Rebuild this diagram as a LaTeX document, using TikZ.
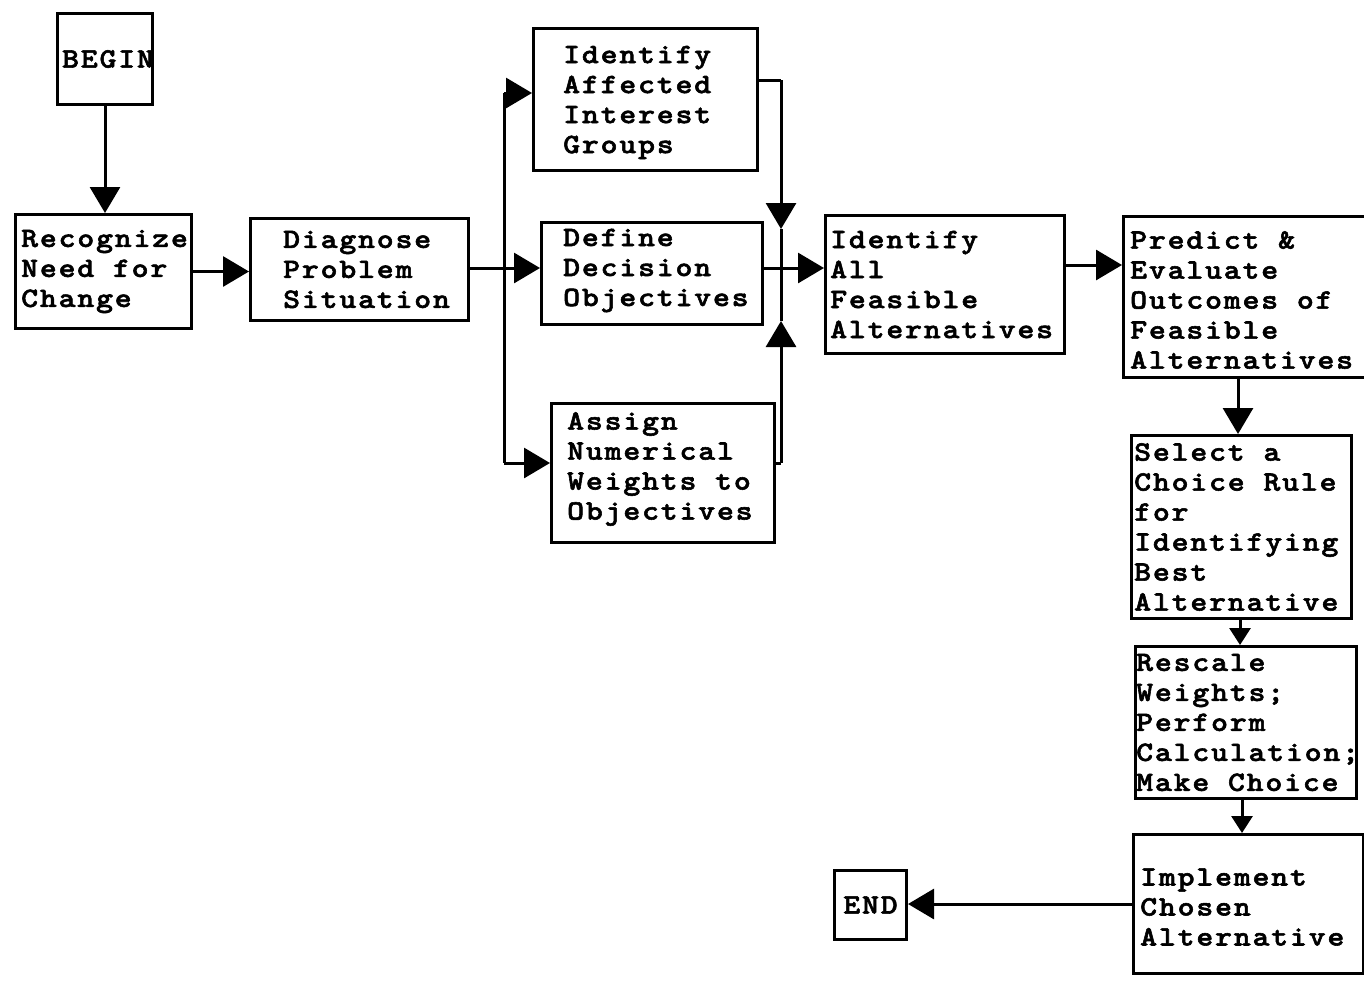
\documentclass[tikz,border=0pt]{standalone}
\usepackage{fontspec}
\usetikzlibrary{arrows.meta}
\newfontfamily\tw{lmmonolt10-bold}[Extension=.otf,FakeStretch=1.15,FakeBold=2,LetterSpace=6.5]
\tikzset{
  box/.style={draw, line width=3pt, rectangle, inner sep=0pt, anchor=north west},
  lbl/.style={align=left, inner sep=0pt, anchor=west, font=\tw\fontsize{28}{30}\selectfont},
  clbl/.style={align=center, inner sep=0pt, font=\tw\fontsize{28}{30}\selectfont},
  wire/.style={line width=3pt},
  big/.style={wire, -{Triangle[width=30pt,length=26pt]}},
  small/.style={wire, -{Triangle[width=21pt,length=17pt]}}
}
\begin{document}
\begin{tikzpicture}[x=1pt,y=-1pt]
\useasboundingbox (0,0) rectangle (1364,980);

% boxes
\node[box, minimum width=95pt,  minimum height=91pt]  (begin) at (56,12) {};
\node[box, minimum width=176pt, minimum height=114pt] (rec)   at (14,213) {};
\node[box, minimum width=218pt, minimum height=102pt] (diag)  at (249,217) {};
\node[box, minimum width=224pt, minimum height=142pt] (aff)   at (532,27) {};
\node[box, minimum width=221pt, minimum height=102pt] (def)   at (540,221) {};
\node[box, minimum width=223pt, minimum height=139pt] (ass)   at (550,402) {};
\node[box, minimum width=239pt, minimum height=138pt] (all)   at (824,214) {};
\node[box, minimum width=246pt, minimum height=161pt] (pred)  at (1122,215) {};
\node[box, minimum width=220pt, minimum height=183pt] (sel)   at (1130,434) {};
\node[box, minimum width=221pt, minimum height=152pt] (res)   at (1134,645) {};
\node[box, minimum width=230pt, minimum height=139pt] (imp)   at (1132,833) {};
\node[box, minimum width=72pt,  minimum height=69pt]  (end)   at (833,869) {};

% texts
\node[clbl] (begin-t) at ([xshift=3pt]begin.center) {BEGIN};
\node[lbl] (rec-t)  at ([xshift=7pt]rec.west)   {Recognize\\Need for\\Change};
\node[lbl] (diag-t) at ([xshift=34pt]diag.west) {Diagnose\\Problem\\Situation};
\node[lbl] (aff-t)  at ([xshift=31pt,yshift=-3pt]aff.west) {Identify\\Affected\\Interest\\Groups};
\node[lbl] (def-t)  at ([xshift=23pt,yshift=3pt]def.west)  {Define\\Decision\\Objectives};
\node[lbl] (ass-t)  at ([xshift=17pt,yshift=4pt]ass.west)  {Assign\\Numerical\\Weights to\\Objectives};
\node[lbl] (all-t)  at ([xshift=6pt]all.west)   {Identify\\All\\Feasible\\Alternatives};
\node[lbl] (pred-t) at ([xshift=8pt,yshift=-3pt]pred.west) {Predict \&\\Evaluate\\Outcomes of\\Feasible\\Alternatives};
\node[lbl] (sel-t)  at ([xshift=4pt]sel.west)   {Select a\\Choice Rule\\for\\Identifying\\Best\\Alternative};
\node[lbl] (res-t)  at ([xshift=2pt]res.west)   {Rescale\\Weights;\\Perform\\Calculation;\\Make Choice};
\node[lbl] (imp-t)  at ([xshift=8pt,yshift=-3pt]imp.west)  {Implement\\Chosen\\Alternative};
\node[clbl] (end-t) at (end.center) {END};

% junction points
\coordinate (bt) at (504,93);
\coordinate (bb) at (504,463);
\coordinate (mt) at (781,80);
\coordinate (mb) at (781,463);
\coordinate (mdown) at (781,229);
\coordinate (mup) at (781,321);
\coordinate (r2) at (0,268);
\coordinate (r3) at (0,265);
\coordinate (c1) at (1238,0);
\coordinate (c2) at (1240,0);
\coordinate (c3) at (1242,0);

% connectors
\draw[big] (begin.south) -- (begin.south |- rec.north);
\draw[big] (rec.east) -- (rec.east -| diag.west);
\draw[big] (diag.east |- r2) -- (def.west |- r2);
\draw[wire] (bt) -- (bb);
\draw[big] (bt) -- (bt -| aff.west);
\draw[big] (bb) -- (bb -| ass.west);
\draw[wire] (aff.east |- mt) -- (mt);
\draw[big] (mt) -- (mdown);
\draw[wire] (mdown) -- (mup);
\draw[big] (mb) -- (mup);
\draw[wire] (ass.east |- mb) -- (mb);
\draw[big] (def.east |- r2) -- (all.west |- r2);
\draw[big] (all.east |- r3) -- (pred.west |- r3);
\draw[big] (pred.south -| c1) -- (sel.north -| c1);
\draw[small] (sel.south -| c2) -- (res.north -| c2);
\draw[small] (res.south -| c3) -- (imp.north -| c3);
\draw[big] (imp.west) -- (imp.west -| end.east);
\end{tikzpicture}
\end{document}
